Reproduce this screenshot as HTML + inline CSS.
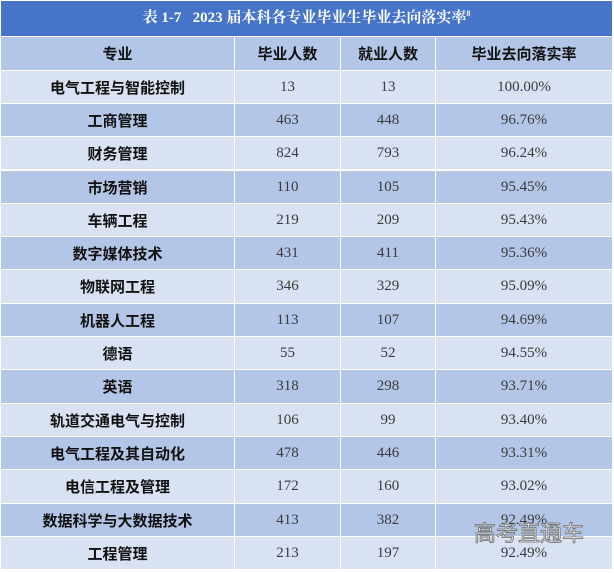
<!DOCTYPE html>
<html><head><meta charset="utf-8">
<style>
html,body{margin:0;padding:0;background:#fff;}
body{width:614px;height:573px;position:relative;overflow:hidden;font-family:"Liberation Sans","Noto Sans CJK SC",sans-serif;}
.title{position:absolute;left:1px;top:1px;width:611px;height:35px;background:#4674c8;color:#fff;font-family:"Liberation Serif","Noto Serif CJK SC",serif;font-weight:bold;font-size:15px;line-height:34px;text-align:center;}
.title sup{font-size:8px;vertical-align:top;position:relative;top:-4px;}
.row{position:absolute;left:1px;width:611px;}
.c{position:absolute;top:0;bottom:0;display:flex;align-items:center;justify-content:center;box-sizing:border-box;}
.c1{left:0;width:233px;}
.c2{left:234px;width:105px;}
.c3{left:340px;width:94px;}
.c4{left:435px;width:176px;}
.lab{font-family:"Liberation Sans","Noto Sans CJK SC",sans-serif;font-weight:bold;font-size:15px;color:#111;}
.num{font-family:"Liberation Serif","Noto Serif CJK SC",serif;font-size:15px;color:#3a3a3a;}
.hd .c{font-weight:bold;font-size:15px;color:#111;}
.light .c{background:#d9e2f3;}
.dark .c{background:#b4c6e7;}
.wm{position:absolute;left:474px;top:519px;font-family:"Liberation Sans","Noto Sans CJK SC",sans-serif;font-size:22px;line-height:30px;color:#f2f2f2;-webkit-text-stroke:0.8px #6a6a6a;white-space:nowrap;}
</style></head><body>
<div class="title">表 1-7&nbsp;&nbsp; 2023 届本科各专业毕业生毕业去向落实率<sup>8</sup></div>

<div class="row hd dark" style="top:37px;height:33px;">
<div class="c c1">专业</div><div class="c c2">毕业人数</div><div class="c c3">就业人数</div><div class="c c4">毕业去向落实率</div></div>

<div class="row light" style="top:71px;height:32px;"><div class="c c1 lab">电气工程与智能控制</div><div class="c c2 num">13</div><div class="c c3 num">13</div><div class="c c4 num">100.00%</div></div>
<div class="row dark" style="top:104px;height:32px;"><div class="c c1 lab">工商管理</div><div class="c c2 num">463</div><div class="c c3 num">448</div><div class="c c4 num">96.76%</div></div>
<div class="row light" style="top:137px;height:32px;"><div class="c c1 lab">财务管理</div><div class="c c2 num">824</div><div class="c c3 num">793</div><div class="c c4 num">96.24%</div></div>
<div class="row dark" style="top:171px;height:32px;"><div class="c c1 lab">市场营销</div><div class="c c2 num">110</div><div class="c c3 num">105</div><div class="c c4 num">95.45%</div></div>
<div class="row light" style="top:204px;height:32px;"><div class="c c1 lab">车辆工程</div><div class="c c2 num">219</div><div class="c c3 num">209</div><div class="c c4 num">95.43%</div></div>
<div class="row dark" style="top:237px;height:32px;"><div class="c c1 lab">数字媒体技术</div><div class="c c2 num">431</div><div class="c c3 num">411</div><div class="c c4 num">95.36%</div></div>
<div class="row light" style="top:270px;height:33px;"><div class="c c1 lab">物联网工程</div><div class="c c2 num">346</div><div class="c c3 num">329</div><div class="c c4 num">95.09%</div></div>
<div class="row dark" style="top:304px;height:32px;"><div class="c c1 lab">机器人工程</div><div class="c c2 num">113</div><div class="c c3 num">107</div><div class="c c4 num">94.69%</div></div>
<div class="row light" style="top:337px;height:32px;"><div class="c c1 lab">德语</div><div class="c c2 num">55</div><div class="c c3 num">52</div><div class="c c4 num">94.55%</div></div>
<div class="row dark" style="top:370px;height:33px;"><div class="c c1 lab">英语</div><div class="c c2 num">318</div><div class="c c3 num">298</div><div class="c c4 num">93.71%</div></div>
<div class="row light" style="top:404px;height:32px;"><div class="c c1 lab">轨道交通电气与控制</div><div class="c c2 num">106</div><div class="c c3 num">99</div><div class="c c4 num">93.40%</div></div>
<div class="row dark" style="top:437px;height:32px;"><div class="c c1 lab">电气工程及其自动化</div><div class="c c2 num">478</div><div class="c c3 num">446</div><div class="c c4 num">93.31%</div></div>
<div class="row light" style="top:470px;height:33px;"><div class="c c1 lab">电信工程及管理</div><div class="c c2 num">172</div><div class="c c3 num">160</div><div class="c c4 num">93.02%</div></div>
<div class="row dark" style="top:504px;height:32px;"><div class="c c1 lab">数据科学与大数据技术</div><div class="c c2 num">413</div><div class="c c3 num">382</div><div class="c c4 num">92.49%</div></div>
<div class="row light" style="top:537px;height:32px;"><div class="c c1 lab">工程管理</div><div class="c c2 num">213</div><div class="c c3 num">197</div><div class="c c4 num">92.49%</div></div>

<div class="wm">高考直通车</div>
</body></html>
